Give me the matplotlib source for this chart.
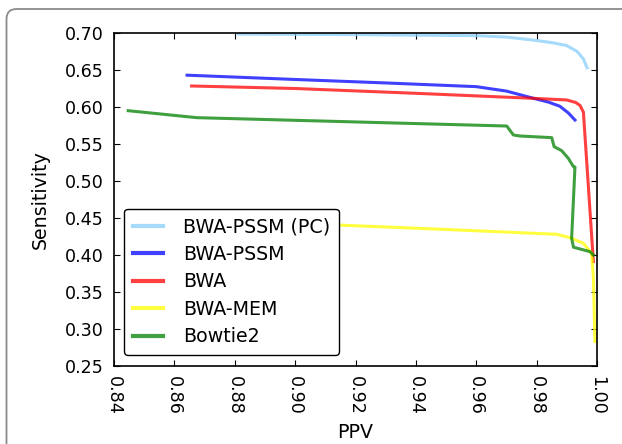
import matplotlib
matplotlib.use("Agg")
import matplotlib.pyplot as plt
from matplotlib.patches import PathPatch
from matplotlib.path import Path
from matplotlib.transforms import IdentityTransform

labels = ["BWA-PSSM (PC)", "BWA-PSSM", "BWA", "BWA-MEM", "Bowtie2"]
colors = ["#87cefa", "#0000ff", "#ff0000", "#ffff00", "#008000"]

pc_ppv  = [0.8811, 0.920, 0.960, 0.970, 0.9788, 0.985, 0.990, 0.9934, 0.9955, 0.9967]
pc_sens = [0.6986, 0.6978, 0.6964, 0.6945, 0.6905, 0.6870, 0.6830, 0.6750, 0.6650, 0.6530]

pssm_ppv  = [0.8642, 0.900, 0.930, 0.960, 0.970, 0.979, 0.9840, 0.9877, 0.9905, 0.9927]
pssm_sens = [0.6430, 0.6372, 0.6325, 0.6275, 0.6215, 0.6117, 0.6065, 0.6010, 0.5920, 0.5824]

bwa_ppv  = [0.8657, 0.900, 0.940, 0.979, 0.9900, 0.9930, 0.9944, 0.9955, 0.9988]
bwa_sens = [0.6284, 0.6250, 0.6185, 0.6117, 0.6095, 0.6060, 0.6020, 0.5930, 0.3910]

mem_ppv  = [0.8650, 0.9142, 0.950, 0.9866, 0.9910, 0.9955, 0.9982, 0.9988, 0.9993]
mem_sens = [0.4490, 0.4405, 0.4345, 0.4280, 0.4235, 0.4158, 0.4023, 0.3700, 0.2830]

bt_ppv  = [0.8447, 0.8674, 0.9701, 0.9723, 0.9745, 0.9850, 0.9858, 0.9883, 0.9905,
           0.9922, 0.9927, 0.9916, 0.9922, 0.9977, 0.9988]
bt_sens = [0.5950, 0.5856, 0.5743, 0.5622, 0.5608, 0.5586, 0.5464, 0.5410, 0.5306,
           0.5193, 0.5190, 0.4225, 0.4105, 0.4045, 0.4000]

x_ticks = [0.84, 0.86, 0.88, 0.90, 0.92, 0.94, 0.96, 0.98, 1.00]
y_ticks = [0.25, 0.30, 0.35, 0.40, 0.45, 0.50, 0.55, 0.60, 0.65, 0.70]

W, H = 622, 444
fig = plt.figure(figsize=(W / 100, H / 100), dpi=100)

# outer frame: rounded top-left corner, open toward right and bottom edges
fx, fy, r = 6.5, H - 9.0, 10.0
frame_path = Path([(fx, -20), (fx, fy - r), (fx, fy), (fx + r, fy), (W + 20, fy)],
                  [Path.MOVETO, Path.LINETO, Path.CURVE3, Path.CURVE3, Path.LINETO])
fig.patches.append(PathPatch(frame_path, transform=IdentityTransform(),
                             facecolor="none", edgecolor="#8a8a8a", linewidth=1.3))

ax = fig.add_axes([114 / W, 1 - 366 / H, (597 - 114) / W, (366 - 33) / H])
series = [(pc_ppv, pc_sens), (pssm_ppv, pssm_sens), (bwa_ppv, bwa_sens),
          (mem_ppv, mem_sens), (bt_ppv, bt_sens)]
for (xs, ys), c, lab in zip(series, colors, labels):
    ax.plot(xs, ys, color=c, alpha=0.75, lw=2.2, label=lab)

ax.set_xlim(0.84, 1.00)
ax.set_ylim(0.25, 0.70)
ax.set_xticks(x_ticks)
ax.set_xticklabels([f"{v:.2f}" for v in x_ticks], rotation=270)
ax.set_yticks(y_ticks)
ax.set_yticklabels([f"{v:.2f}" for v in y_ticks])
ax.tick_params(direction="in", top=True, right=True, labelsize=12.6, length=4, pad=7.5)
for s in ax.spines.values():
    s.set_linewidth(1.2)
ax.set_xlabel("PPV", fontsize=13.7, labelpad=5.5)
ax.set_ylabel("Sensitivity", fontsize=13.7, labelpad=11)

leg = ax.legend(loc="lower left", fontsize=13.7, frameon=True, fancybox=True,
                handlelength=1.6, handletextpad=1.05, labelspacing=0.45,
                borderpad=0.45, borderaxespad=0,
                bbox_to_anchor=((124 - 114) / 483, (366 - 355) / 333))
leg.get_frame().set_edgecolor("black")
leg.get_frame().set_alpha(1)
for l in leg.get_lines():
    l.set_linewidth(3)

fig.savefig("out.png", dpi=100)
